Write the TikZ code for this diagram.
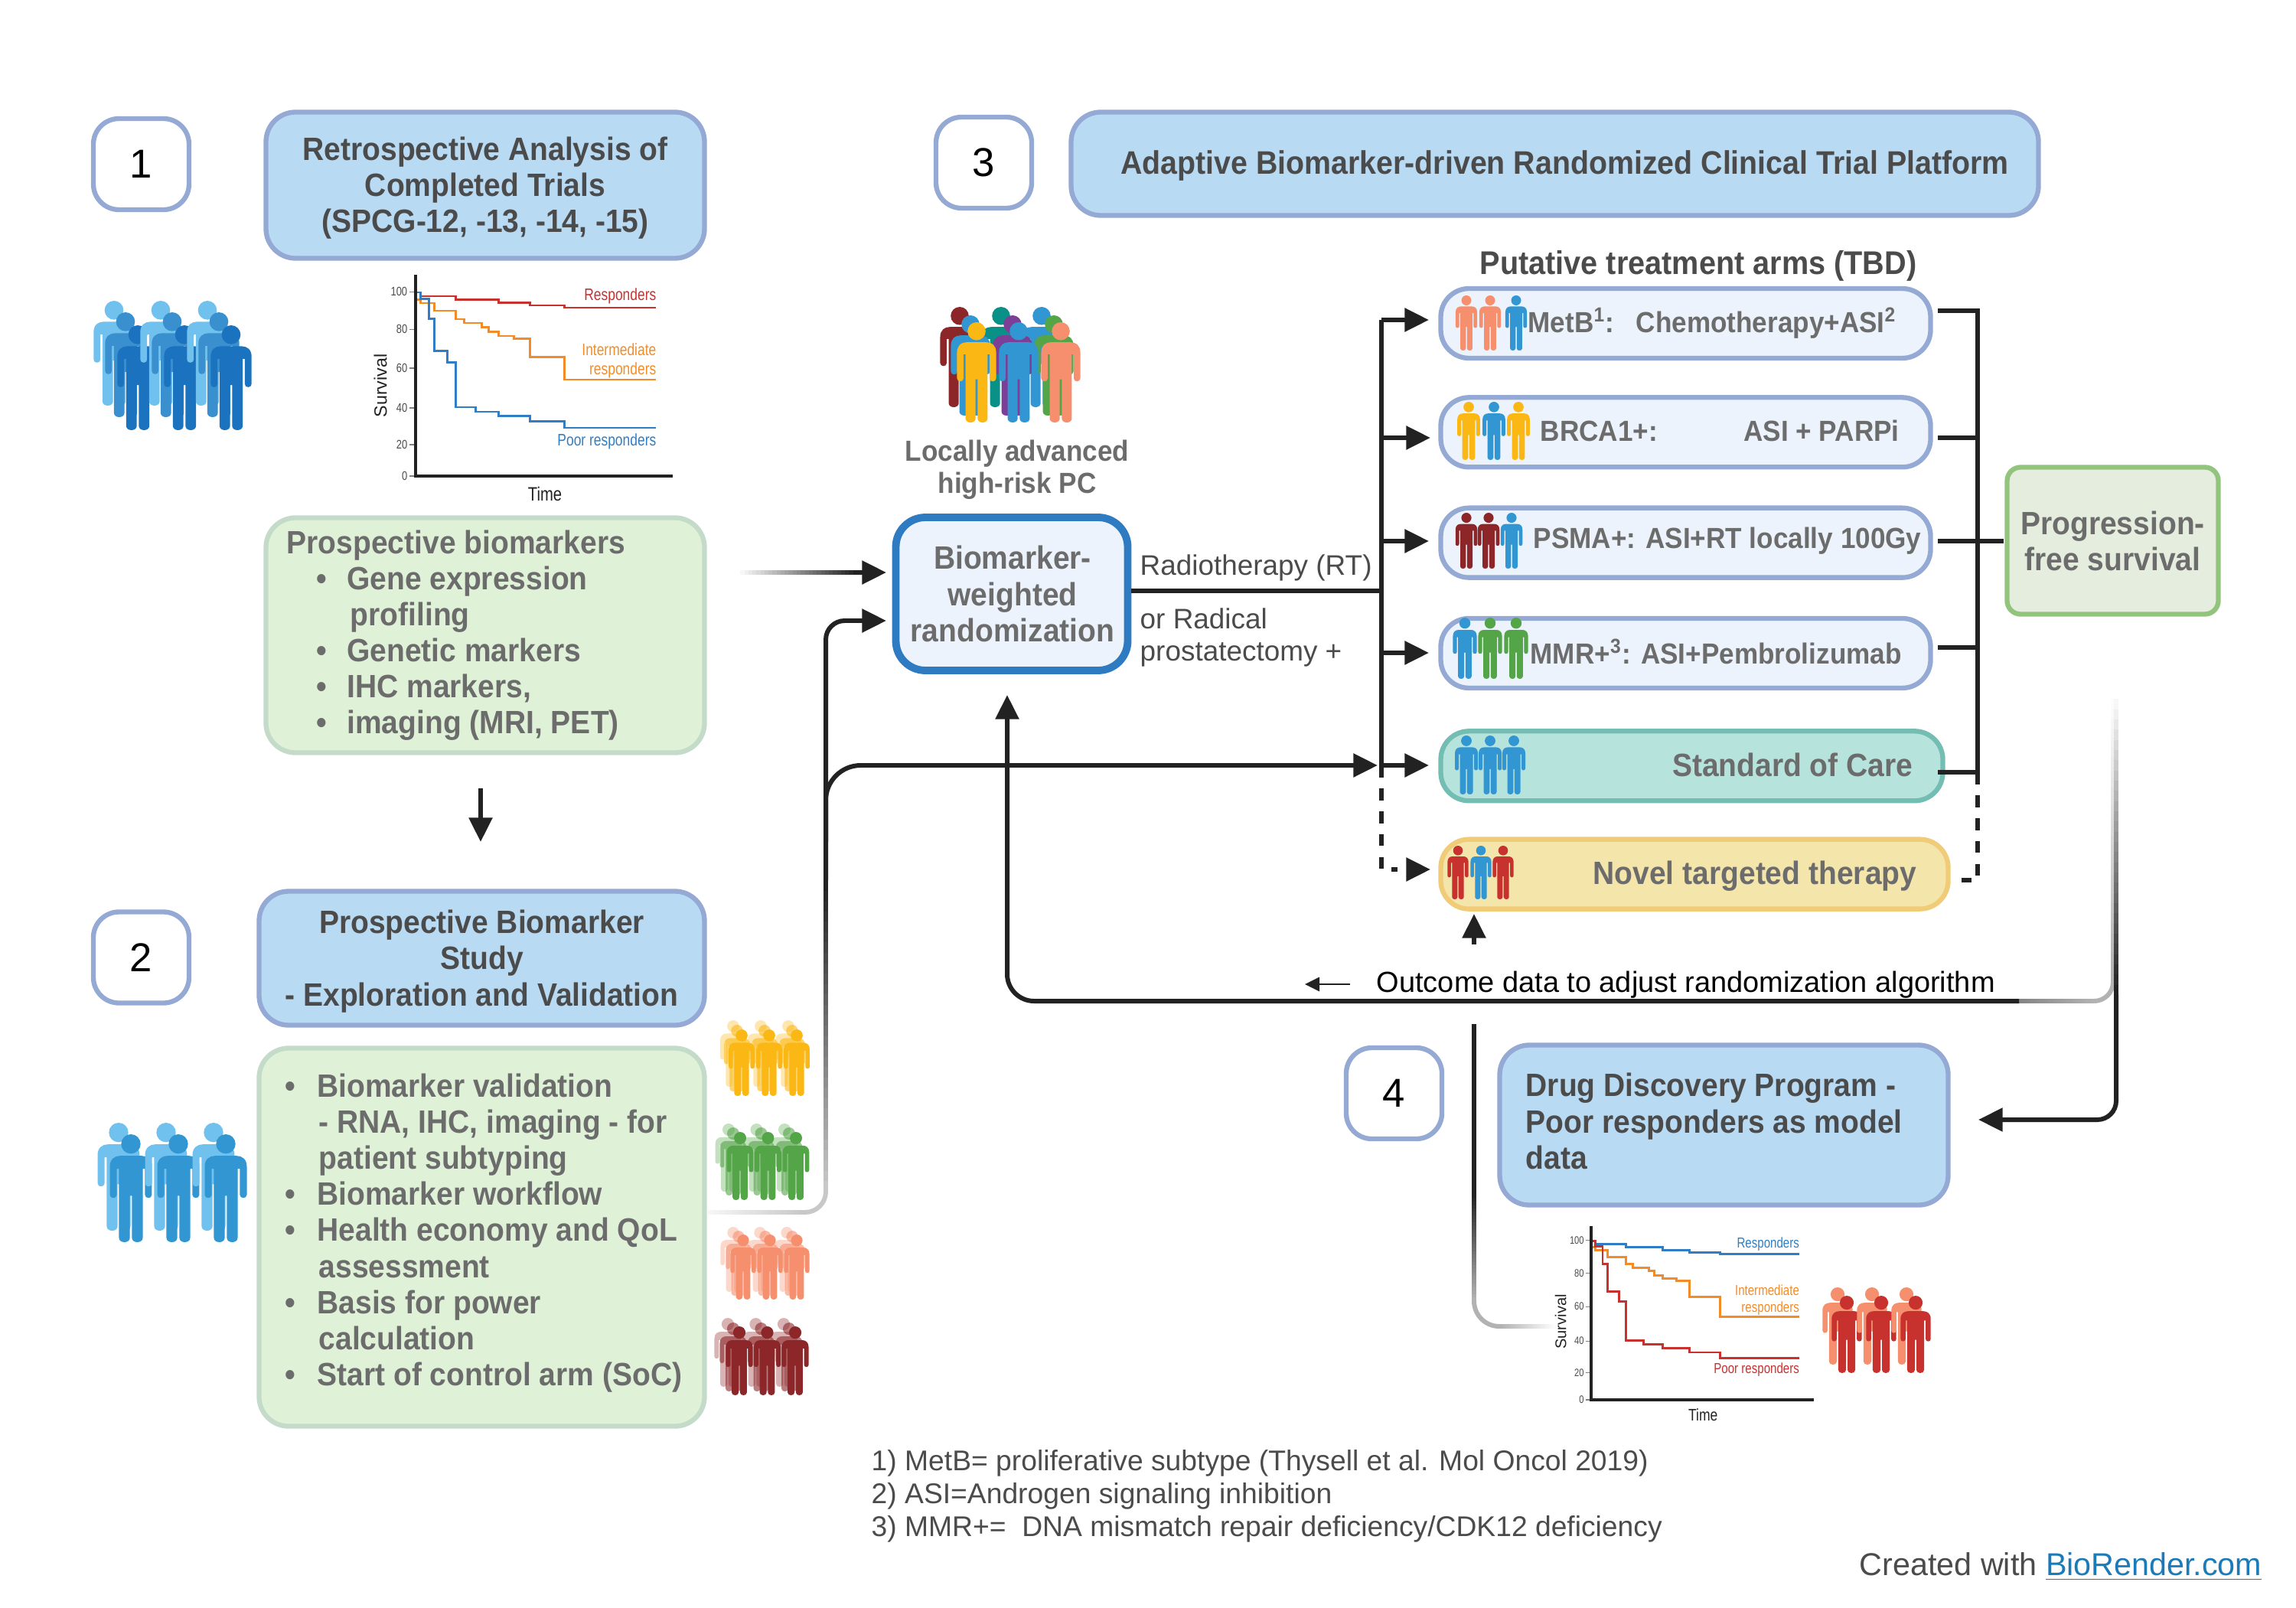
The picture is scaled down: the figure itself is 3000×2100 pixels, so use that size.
\documentclass[tikz,border=0pt]{standalone}
\usepackage{fontspec}
\setmainfont{Liberation Sans}
\newfontfamily\medfam[FakeStretch=0.925]{Liberation Sans}
\newcommand{\medfont}{\medfam\bfseries}
\newfontfamily\condfont[FakeStretch=0.8]{Liberation Sans}
\usetikzlibrary{arrows.meta,positioning}
\definecolor{linedark}{HTML}{222222}
\definecolor{headtext}{HTML}{4B4B4B}
\definecolor{softtext}{HTML}{6C6C6C}
\definecolor{headfill}{HTML}{B8DAF3}
\definecolor{headedge}{HTML}{94A9D3}
\definecolor{greenfill}{HTML}{DFF2D8}
\definecolor{greenedge}{HTML}{C5DBC9}
\definecolor{armfill}{HTML}{ECF3FC}
\definecolor{socfill}{HTML}{B7E3DD}
\definecolor{socedge}{HTML}{74BDB3}
\definecolor{novelfill}{HTML}{F4E5AB}
\definecolor{noveledge}{HTML}{F0CB78}
\definecolor{pfsfill}{HTML}{E4EDDE}
\definecolor{pfsedge}{HTML}{93C47D}
\definecolor{bmwedge}{HTML}{2F7BC2}
\definecolor{manblue}{HTML}{3196D2}
\definecolor{manyellow}{HTML}{FBB713}
\definecolor{mansalmon}{HTML}{F58F6E}
\definecolor{mandark}{HTML}{8C2628}
\definecolor{mangreen}{HTML}{53A547}
\definecolor{manred}{HTML}{C7322F}
\definecolor{manpale}{HTML}{71C1EF}
\definecolor{manmid}{HTML}{3A90CF}
\definecolor{mandeep}{HTML}{1B72BF}
\definecolor{manpurple}{HTML}{7B3F98}
\definecolor{manteal}{HTML}{0A9187}
\definecolor{curvered}{HTML}{C7322F}
\definecolor{curveorange}{HTML}{F28C28}
\definecolor{curveblue}{HTML}{2F7DC4}
\definecolor{linkblue}{HTML}{1B7AB8}
\tikzset{
  person/.pic={
    \fill[pic actions] (0,9) circle [radius=9];
    \fill[pic actions] (0,57) -- (1,57) -- (1,96) .. controls (1,101.3) and (11,101.3) .. (11,96)
      -- (11,32) -- (13,32) -- (13,56) .. controls (13,60) and (19.5,60) .. (19.5,56)
      -- (19.5,30) .. controls (19.5,23) and (15,20) .. (10,20) -- (-10,20)
      .. controls (-15,20) and (-19.5,23) .. (-19.5,30) -- (-19.5,56)
      .. controls (-19.5,60) and (-13,60) .. (-13,56) -- (-13,32) -- (-11,32) -- (-11,96)
      .. controls (-11,101.3) and (-1,101.3) .. (-1,96) -- (-1,57) -- cycle;
  }
}
\newcommand{\bulitem}[2]{\hspace*{#1}\textbullet\hspace*{#2}}
\newcommand{\wirev}[5]{
  \foreach \s in {0,...,29} {
    \pgfmathsetmacro{\pct}{#4+(#5-#4)*\s/29}
    \fill[linedark!\pct] ({#1-3},{#2+(#3-#2)*\s/30}) rectangle ({#1+3},{#2+(#3-#2)*(\s+1.2)/30});
  }
}
\newcommand{\wireh}[5]{
  \foreach \s in {0,...,29} {
    \pgfmathsetmacro{\pct}{#4+(#5-#4)*\s/29}
    \fill[linedark!\pct] ({#2+(#3-#2)*\s/30},{#1-3}) rectangle ({#2+(#3-#2)*(\s+1.2)/30},{#1+3});
  }
}
\newcommand{\survplot}[7]{
  \begin{scope}[shift={(#2,#3)},scale=#4,transform shape]
    \foreach \tickval/\ticky in {100/-240.7,80/-191.7,60/-141,40/-89,20/-41,0/0} {
      \draw[gray,line width=0.3pt] (-8,\ticky) -- (0,\ticky);
      \node (#1tick\tickval) [chartnum,anchor=east] at (-8,\ticky) {\tickval};
    }
    \draw[curve,#6] (0,-230.7) -- (6.5,-230.7) -- (6.5,-226) -- (24.4,-226) -- (24.4,-216) -- (52.6,-216)
      -- (52.6,-205) -- (63.4,-205) -- (63.4,-200) -- (86.7,-200) -- (86.7,-194.3) -- (95.9,-194.3)
      -- (95.9,-188.3) -- (108.4,-188.3) -- (108.4,-183) -- (128.5,-183) -- (128.5,-179.7) -- (149,-179.7)
      -- (149,-155.7) -- (194.6,-155.7) -- (194.6,-126) -- (314.4,-126);
    \draw[curve,#5] (0,-240) -- (6.5,-240) -- (6.5,-235) -- (52.6,-235) -- (52.6,-230.7) -- (108.4,-230.7)
      -- (108.4,-226.3) -- (149,-226.3) -- (149,-223) -- (194.6,-223) -- (194.6,-220) -- (314.4,-220);
    \draw[curve,#7] (0,-240) -- (6.5,-240) -- (6.5,-231.7) -- (17.3,-231.7) -- (17.3,-205.7) -- (24.4,-205.7)
      -- (24.4,-163.3) -- (41.7,-163.3) -- (41.7,-148.3) -- (52.6,-148.3) -- (52.6,-90) -- (78.6,-90)
      -- (78.6,-84) -- (108.4,-84) -- (108.4,-78.3) -- (149,-78.3) -- (149,-71.7) -- (194.6,-71.7)
      -- (194.6,-63) -- (314.4,-63);
    \draw[line width=1.1pt,linedark] (0,-263) -- (0,0) -- (336,0);
    \node (#1survival) [rotate=90,font=\fontsize{6.6}{7}\selectfont,text=linedark,inner sep=0pt] at (-46,-118) { Survival };
    \node (#1time) [chartword,font=\condfont\fontsize{7.2}{8}\selectfont,text=linedark] at (169,23) { Time };
    \node (#1top) [chartword,text=#5,anchor=east] at (315,-235) { Responders };
    \node (#1mid) [chartword,text=#6,anchor=east,align=right] at (315,-150.5) { Intermediate\\responders };
    \node (#1low) [chartword,text=#7,anchor=east] at (315,-45) { Poor responders };
  \end{scope}
}
\begin{document}
\begin{tikzpicture}[x=0.1mm,y=-0.1mm,
    numbox/.style={rectangle,rounded corners=9.5pt,draw=headedge,fill=white,line width=1.8pt,font=\fontsize{15}{18}\selectfont,minimum width=12.5mm,minimum height=11.9mm},
    headbox/.style={rectangle,rounded corners=11pt,draw=headedge,fill=headfill,line width=1.8pt},
    headtxt/.style={inner sep=0pt,text=headtext,align=center,font=\medfont\fontsize{12}{13.4}\selectfont},
    greenbox/.style={rectangle,rounded corners=11pt,draw=greenedge,fill=greenfill,line width=1.8pt},
    armbox/.style={rectangle,rounded corners=10.5pt,draw=headedge,fill=armfill,line width=1.8pt,minimum height=9.1mm},
    softtxt/.style={text=softtext,inner sep=0pt,align=left,font=\medfont\fontsize{12}{13.4}\selectfont},
    armtxt/.style={text=softtext,inner sep=0pt,font=\medfont\fontsize{10.8}{13}\selectfont},
    plaintxt/.style={text=headtext,inner sep=0pt,align=left,font=\fontsize{10.5}{12.2}\selectfont},
    chartnum/.style={inner sep=0.6pt,text=headtext,font=\condfont\fontsize{4.6}{5}\selectfont},
    chartword/.style={inner sep=0pt,font=\condfont\fontsize{6.2}{7.2}\selectfont},
    curve/.style={line width=0.85pt},
    wire/.style={line width=1.7pt,draw=linedark},
    flow/.style={wire,-{Triangle[length=9pt,width=8.5pt]}},
    dashwire/.style={wire,dash pattern=on 4.5pt off 4pt},
   ]

    \useasboundingbox (0,0) rectangle (3000,2100);

    \node (numone) [numbox] at (184.5,214.5) { 1 };
    \node (retro) [headbox,minimum width=57.3mm,minimum height=19.1mm] at (634,242) {};
    \node (retrotxt) [headtxt] at (634,246) { Retrospective Analysis of\\Completed Trials\\(SPCG-12, -13, -14, -15) };
    \node (numthree) [numbox] at (1285.5,212.5) { 3 };
    \node (adaptive) [headbox,minimum width=126.4mm,minimum height=13.5mm] at (2031.5,214) {};
    \node (adaptivetxt) [headtxt,font=\medfont\fontsize{12.1}{13.4}\selectfont] at (2050,217) { Adaptive Biomarker-driven Randomized Clinical Trial Platform };
    \node (prosbox) [greenbox,minimum width=57.3mm,minimum height=30.7mm] at (634,830) {};
    \node (prostxt) [softtxt,anchor=west] at (374,830) { Prospective biomarkers\\\bulitem{11pt}{7.5pt}Gene expression\\\hspace*{23.6pt}profiling\\\bulitem{11pt}{7.5pt}Genetic markers\\\bulitem{11pt}{7.5pt}IHC markers,\\\bulitem{11pt}{7.5pt}imaging (MRI, PET) };
    \node (numtwo) [numbox] at (184.5,1251) { 2 };
    \node (studyhead) [headbox,minimum width=58.2mm,minimum height=17.5mm] at (629.5,1252) {};
    \node (studytxt) [headtxt] at (629.5,1256) { Prospective Biomarker\\Study\\- Exploration and Validation };
    \node (valbox) [greenbox,minimum width=58.2mm,minimum height=49.4mm] at (629.5,1616.5) {};
    \node (valtxt) [softtxt,anchor=west] at (372,1611) { \bulitem{0pt}{8pt}Biomarker validation\\\hspace*{12.5pt}- RNA, IHC, imaging - for\\\hspace*{12.5pt}patient subtyping\\\bulitem{0pt}{8pt}Biomarker workflow\\\bulitem{0pt}{8pt}Health economy and QoL\\\hspace*{12.5pt}assessment\\\bulitem{0pt}{8pt}Basis for power\\\hspace*{12.5pt}calculation\\\bulitem{0pt}{8pt}Start of control arm (SoC) };
    \node (crowdtxt) [softtxt,align=center,font=\medfont\fontsize{10.8}{11.9}\selectfont] at (1329,614) { Locally advanced\\high-risk PC };
    \node (bmw) [headbox,draw=bmwedge,fill=armfill,line width=2.8pt,minimum width=30.3mm,minimum height=20mm] at (1322,776) {};
    \node (bmwtxt) [headtxt,text=softtext] at (1323,776) { Biomarker-\\weighted\\randomization };
    \node (rttxt) [plaintxt,anchor=west] at (1489,742) { Radiotherapy (RT) };
    \node (rptxt) [plaintxt,anchor=west] at (1489,833) { or Radical\\prostatectomy + };
    \node (armshead) [text=headtext,inner sep=0pt,font=\medfont\fontsize{12.2}{13}\selectfont] at (2219,347) { Putative treatment arms (TBD) };

    \node (metb) [armbox,minimum width=64mm] at (2202.5,422.5) {};
    \node (brca) [armbox,minimum width=64mm,below=4.5mm of metb.south west,anchor=north west] {};
    \node (psma) [armbox,minimum width=64mm,below=4.7mm of brca.south west,anchor=north west] {};
    \node (mmr) [armbox,minimum width=64mm,below=4.7mm of psma.south west,anchor=north west] {};
    \node (soc) [armbox,draw=socedge,fill=socfill,minimum width=65.6mm,below=5mm of mmr.south west,anchor=north west] {};
    \node (novel) [armbox,draw=noveledge,fill=novelfill,minimum width=66.3mm,below=4.4mm of soc.south west,anchor=north west] {};
    \node (metbtxt) [armtxt,anchor=west] at (1996,422) { MetB\textsuperscript{1}:\hspace*{8pt}Chemotherapy+ASI\textsuperscript{2} };
    \node (brcatxt) [armtxt,anchor=west] at (2012,563) { BRCA1+:\hspace*{32pt}ASI + PARPi };
    \node (psmatxt) [armtxt,anchor=west] at (2003,707) { PSMA+: ASI+RT locally 100Gy };
    \node (mmrtxt) [armtxt,anchor=west] at (1999,851) { MMR+\textsuperscript{3}: ASI+Pembrolizumab };
    \node (soctxt) [armtxt,anchor=east,font=\medfont\fontsize{12}{13.4}\selectfont] at (2500,999) { Standard of Care };
    \node (noveltxt) [armtxt,anchor=east,font=\medfont\fontsize{12}{13.4}\selectfont] at (2505,1145) { Novel targeted therapy };

    \node (pfs) [rectangle,rounded corners=5pt,draw=pfsedge,fill=pfsfill,line width=1.8pt,text=softtext,align=center,font=\medfont\fontsize{12}{13.4}\selectfont,minimum width=27.6mm,minimum height=19.2mm] at (2760.5,706.5) { Progression-\\free survival };
    \node (outcome) [inner sep=0pt,text=black,font=\fontsize{10.8}{12}\selectfont,anchor=west] at (1798,1287) { Outcome data to adjust randomization algorithm };
    \node (numfour) [numbox] at (1821.5,1428.5) { 4 };
    \node (drug) [headbox,minimum width=58.6mm,minimum height=20.9mm] at (2252.5,1470) {};
    \node (drugtxt) [softtxt,text=headtext,anchor=west] at (1993,1465) { Drug Discovery Program -\\Poor responders as model\\data };
    \node (notes) [plaintxt,anchor=west,font=\fontsize{10.6}{12.2}\selectfont] at (1138,1955) { 1) MetB= proliferative subtype (Thysell et al. Mol Oncol 2019)\\2) ASI=Androgen signaling inhibition\\3) MMR+=\ \ DNA mismatch repair deficiency/CDK12 deficiency };
    \node (credit) [inner sep=0pt,text=headtext,font=\fontsize{11.75}{13}\selectfont,anchor=east] at (2956,2047) { Created with \textcolor{linkblue}{\underline{BioRender.com}} };

    \coordinate (tipmetb) at (1867,418);
    \coordinate (tipbrca) at (1869,572);
    \coordinate (tippsma) at (1867,707);
    \coordinate (tipmmr) at (1867,853);
    \coordinate (tipsoc) at (1867,1000);
    \coordinate (tipnovel) at (1869,1136);
    \coordinate (trunkrt) at (1805,772);
    \coordinate (trunktop) at (1805,418);
    \coordinate (trunksoc) at (1805,1000);
    \coordinate (bustop) at (2584,406);
    \coordinate (bussoc) at (2584,1009);
    \coordinate (busend) at (2563,1150);

    \draw[wire] (bmw.east|-trunkrt) -- (trunkrt);
    \draw[wire] (trunktop) -- (trunksoc);
    \foreach \armtip in {tipmetb,tipbrca,tippsma,tipmmr,tipsoc} {
      \draw[flow] (trunktop|-\armtip) -- (\armtip);
    }
    \draw[dashwire] (trunksoc) -- (trunksoc|-tipnovel) -- (1826,1136);
    \draw[flow] (1840,1136) -- (tipnovel);

    \draw[wire] (2532,406) -- (bustop) -- (bussoc) -- (2532,1009);
    \draw[wire] (2532,572) -- (2584,572);
    \draw[wire] (2532,707) -- (2618,707);
    \draw[wire] (2532,846) -- (2584,846);
    \draw[dashwire] (bussoc) -- (bussoc|-busend) -- (busend);

    \coordinate (prosfade) at (1120,748);
    \coordinate (bmwtop) at (1158,748);
    \wireh{748}{962}{1120}{0}{100}
    \draw[flow] (prosfade) -- (bmwtop);
    \draw[flow] (628,1030) -- (628,1100);

    \coordinate (riserhigh) at (1079,1150);
    \coordinate (bmwlow) at (1158,811);
    \wireh{1584}{925}{1052}{4}{25}
    \draw[wire,draw=linedark!25] (1052,1584) arc[start angle=90,end angle=0,radius=27];
    \wirev{1079}{1557}{1150}{25}{100}
    \draw[flow,rounded corners=7pt] (riserhigh) -- (riserhigh|-bmwlow) -- (bmwlow);
    \draw[flow,rounded corners=13pt] (1079,1100) -- (1079,1000) -- (1800,1000);

    \coordinate (backfade) at (2638,1308);
    \coordinate (bmwback) at (1316,908);
    \wirev{2761}{900}{1283}{0}{35}
    \draw[wire,draw=linedark!35] (2761,1283) arc[start angle=0,end angle=90,radius=25];
    \wireh{1308}{2736}{2638}{35}{55}
    \draw[flow,rounded corners=10pt] (backfade) -- (1316,1308) -- (bmwback);
    \draw[-{Triangle[length=5.4pt,width=5.2pt]},line width=0.7pt,linedark] (1764,1286) -- (1705,1286);
    \coordinate (novelup) at (1926,1194);
    \draw[flow] (1926,1234) -- (novelup);

    \coordinate (drugfade) at (2765,1300);
    \coordinate (drugtip) at (2585,1463);
    \wirev{2765}{900}{1300}{0}{100}
    \draw[flow,rounded corners=7pt] (drugfade) -- (2765,1463) -- (drugtip);

    \draw[wire] (1926,1338) -- (1926,1560);
    \wirev{1926}{1560}{1700}{100}{35}
    \draw[wire,draw=linedark!35] (1926,1700) arc[start angle=180,end angle=90,radius=33];
    \wireh{1733}{1959}{2034}{35}{0}

    \survplot{upper}{543}{622}{1}{curvered}{curveorange}{curveblue}
    \survplot{lower}{2079}{1829}{0.865}{curveblue}{curveorange}{curvered}

    \foreach \i in {0,1,2} {
      \pic[fill=manpale,scale=1.37] at (149+61*\i,393) {person};
      \pic[fill=manmid,scale=1.37] at (164+61*\i,408) {person};
      \pic[fill=mandeep,scale=1.37] at (180+61*\i,425) {person};
      \pic[fill=manpale,scale=1.41] at (155+62*\i,1467) {person};
      \pic[fill=manblue,scale=1.41] at (171+62*\i,1482) {person};
      \pic[fill=mansalmon,scale=1.01] at (2401+45*\i,1682) {person};
      \pic[fill=manred,scale=1.01] at (2413+45*\i,1693) {person};
    }

    \foreach \mancol/\xb/\yb/\xm/\ym/\xf/\yf/\hh/\dd in {
      manyellow/958/1333/963/1339/969/1345/0.87/36,
      mangreen/952/1468/958/1473/967/1479/0.89/36.5,
      mansalmon/958/1603/965/1608/971/1613/0.85/35,
      mandark/951/1722/958/1728/966/1733/0.9/36.5} {
      \foreach \i in {0,1,2} {
        \pic[fill=\mancol,opacity=0.35,scale=\hh] at (\xb+\dd*\i,\yb) {person};
        \pic[fill=\mancol,opacity=0.6,scale=\hh] at (\xm+\dd*\i,\ym) {person};
      }
      \foreach \i in {0,1,2} {
        \pic[fill=\mancol,scale=\hh] at (\xf+\dd*\i,\yf) {person};
      }
    }

    \foreach \mancol/\xp/\yp in {mandark/1254/401,manteal/1308/401,manblue/1361/401,
      manblue/1268/412,manpurple/1323/412,mangreen/1377/412,
      manyellow/1276/421,manblue/1331/421,mansalmon/1386/421} {
      \pic[fill=\mancol,scale=1.31] at (\xp,\yp) {person};
    }

    \foreach \mancol/\xp/\yp/\hh in {
      mansalmon/1916/386/0.72,mansalmon/1947/386/0.72,manblue/1981/386/0.72,
      manyellow/1919/525/0.76,manblue/1952/525/0.76,manyellow/1984/525/0.76,
      mandark/1916/670/0.73,mandark/1945/670/0.73,manblue/1975/670/0.73,
      manblue/1914/807/0.8,mangreen/1947/807/0.8,mangreen/1981/807/0.8,
      manblue/1916/961/0.77,manblue/1947/961/0.77,manblue/1978/961/0.77,
      manred/1905/1105/0.7,manblue/1935/1105/0.7,manred/1964/1105/0.7} {
      \pic[fill=\mancol,scale=\hh] at (\xp,\yp) {person};
    }
  \end{tikzpicture}
\end{document}
